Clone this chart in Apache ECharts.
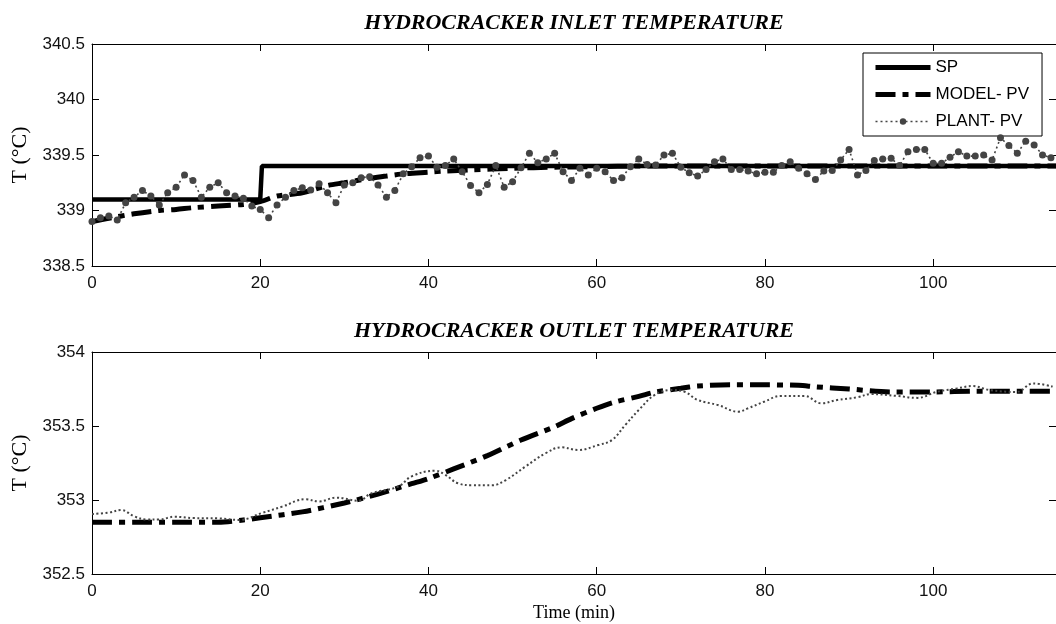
<!DOCTYPE html>
<html>
<head>
<meta charset="utf-8">
<script src="https://cdn.jsdelivr.net/npm/echarts@6/dist/echarts.min.js"></script>
<style>
html,body{margin:0;padding:0;background:#fff;}
#chart{width:1056px;height:624px;}
</style>
</head>
<body>
<div id="chart"></div>
<script>
// ---------- Data ----------
const xTicks = [0, 20, 40, 60, 80, 100];
const inletTicks = [338.5, 339, 339.5, 340, 340.5];
const outletTicks = [352.5, 353, 353.5, 354];

// Inlet: set point
const spTime  = [0, 20, 20.2, 114.6];
const spValue = [339.1, 339.1, 339.4, 339.4];

// Inlet: model PV
const inModelTime  = [0, 2, 5, 8, 10, 12, 15, 18, 20, 22, 25, 28, 30, 33, 35, 37, 40, 42, 45, 50, 55, 60, 65, 70, 80, 90, 100, 110, 114.6];
const inModelValue = [338.9, 338.93, 338.97, 339.0, 339.01, 339.025, 339.04, 339.055, 339.08, 339.13, 339.16, 339.225, 339.25, 339.29, 339.31, 339.33, 339.345, 339.355, 339.365, 339.38, 339.39, 339.395, 339.4, 339.4, 339.4, 339.4, 339.4, 339.4, 339.4];

// Inlet: plant PV (one sample per minute)
const inPlantTime = [0,1,2,3,4,5,6,7,8,9,10,11,12,13,14,15,16,17,18,19,20,21,22,23,24,25,26,27,28,29,30,31,32,33,34,35,36,37,38,39,40,41,42,43,44,45,46,47,48,49,50,51,52,53,54,55,56,57,58,59,60,61,62,63,64,65,66,67,68,69,70,71,72,73,74,75,76,77,78,79,80,81,82,83,84,85,86,87,88,89,90,91,92,93,94,95,96,97,98,99,100,101,102,103,104,105,106,107,108,109,110,111,112,113,114];
const inPlantValue = [
  338.90, 338.935, 338.95, 338.915, 339.07, 339.12, 339.18, 339.13, 339.05, 339.16,
  339.21, 339.32, 339.27, 339.12, 339.21, 339.25, 339.16, 339.13, 339.11, 339.04,
  339.01, 338.935, 339.05, 339.12, 339.18, 339.205, 339.185, 339.24, 339.16, 339.07,
  339.23, 339.25, 339.295, 339.305, 339.23, 339.12, 339.18, 339.33, 339.395, 339.475,
  339.49, 339.39, 339.405, 339.465, 339.35, 339.225, 339.16, 339.235, 339.405, 339.21,
  339.26, 339.385, 339.515, 339.43, 339.465, 339.515, 339.35, 339.27, 339.38, 339.32,
  339.38, 339.35, 339.27, 339.295, 339.395, 339.465, 339.415, 339.41, 339.50, 339.515,
  339.39, 339.34, 339.31, 339.37, 339.44, 339.465, 339.37, 339.37, 339.355, 339.33,
  339.345, 339.345, 339.405, 339.44, 339.38, 339.33, 339.28, 339.355, 339.36, 339.455,
  339.55, 339.32, 339.36, 339.45, 339.465, 339.47, 339.405, 339.53, 339.55, 339.55,
  339.425, 339.425, 339.48, 339.53, 339.49, 339.49, 339.50, 339.455, 339.655, 339.585,
  339.515, 339.625, 339.59, 339.50, 339.475
];

// Outlet: model PV
const outModelTime  = [0, 5, 10, 15, 18, 20, 25, 30, 34, 38, 40, 43, 47, 51, 55, 57, 60, 62, 65, 67, 70, 72, 76, 80, 84, 86, 90, 95, 100, 105, 110, 114.6];
const outModelValue = [352.85, 352.85, 352.85, 352.85, 352.865, 352.88, 352.92, 352.98, 353.04, 353.11, 353.145, 353.21, 353.3, 353.405, 353.495, 353.55, 353.62, 353.66, 353.70, 353.73, 353.755, 353.77, 353.778, 353.778, 353.775, 353.765, 353.75, 353.73, 353.73, 353.735, 353.735, 353.735];

// Outlet: plant PV
const outPlantTime  = [0, 2, 3.5, 5, 6.5, 8, 9.8, 12, 15, 17.5, 20.3, 22.6, 25.4, 27, 29, 31.7, 33.2, 36.4, 38, 40.8, 42, 43.5, 45.2, 47.6, 49.2, 51.5, 53.9, 55.8, 57.8, 60.2, 61.8, 63.4, 65, 66.9, 68.9, 70.5, 72, 74.4, 76.8, 78, 79.9, 81.9, 84.7, 86.7, 88.6, 91, 92.6, 95.7, 98.1, 100.4, 102.8, 104.7, 106.7, 109.9, 111.9, 114.2];
const outPlantValue = [352.905, 352.915, 352.932, 352.89, 352.868, 352.868, 352.887, 352.878, 352.876, 352.865, 352.914, 352.955, 353.005, 352.99, 353.016, 352.995, 353.045, 353.09, 353.16, 353.198, 353.17, 353.113, 353.10, 353.10, 353.135, 353.225, 353.315, 353.356, 353.338, 353.372, 353.405, 353.507, 353.608, 353.71, 353.743, 353.73, 353.676, 353.642, 353.597, 353.62, 353.664, 353.703, 353.703, 353.653, 353.676, 353.694, 353.716, 353.703, 353.69, 353.73, 353.754, 353.77, 353.743, 353.73, 353.788, 353.766];

const zip = (a, b) => a.map((t, i) => [t, b[i]]);

// ---------- Styles ----------
const sansFont = 'Liberation Sans';
const serifFont = 'Liberation Serif';
const X_MAX = 114.6;

function xAxisBottom(grid, name) {
  return {
    type: 'value', gridIndex: grid, position: 'bottom',
    min: 0, max: X_MAX, interval: 20,
    axisLine: { show: true, onZero: false, lineStyle: { color: '#000', width: 1 } },
    axisTick: { show: true, inside: true, length: 7, lineStyle: { color: '#000' } },
    axisLabel: {
      show: true, margin: 9, color: '#111', fontFamily: sansFont, fontSize: 17,
      showMaxLabel: false,
      formatter: v => (xTicks.indexOf(v) >= 0 ? String(v) : '')
    },
    splitLine: { show: false },
    name: name || '', nameLocation: 'middle', nameGap: 30,
    nameTextStyle: { fontFamily: serifFont, fontSize: 18, color: '#000' }
  };
}
function xAxisTop(grid, title) {
  return {
    type: 'value', gridIndex: grid, position: 'top',
    min: 0, max: X_MAX, interval: 20,
    axisLine: { show: true, onZero: false, lineStyle: { color: '#000', width: 1 } },
    axisTick: { show: true, inside: true, length: 7, lineStyle: { color: '#000' } },
    axisLabel: { show: false },
    splitLine: { show: false },
    name: title, nameLocation: 'middle', nameGap: 10,
    nameTextStyle: { fontFamily: serifFont, fontSize: 22, fontStyle: 'italic', fontWeight: 'bold', color: '#000' }
  };
}
function yAxisLeft(grid, ticks) {
  return {
    type: 'value', gridIndex: grid, position: 'left',
    min: ticks[0], max: ticks[ticks.length - 1], interval: 0.5,
    axisLine: { show: true, onZero: false, lineStyle: { color: '#000', width: 1 } },
    axisTick: { show: true, inside: true, length: 7, lineStyle: { color: '#000' } },
    axisLabel: { show: true, margin: 7, color: '#111', fontFamily: sansFont, fontSize: 17 },
    splitLine: { show: false },
    name: 'T (°C)', nameLocation: 'middle', nameRotate: 90, nameGap: 55,
    nameTextStyle: { fontFamily: serifFont, fontSize: 22, color: '#000' }
  };
}
function yAxisRight(grid, ticks) {
  return {
    type: 'value', gridIndex: grid, position: 'right',
    min: ticks[0], max: ticks[ticks.length - 1], interval: 0.5,
    axisLine: { show: true, onZero: false, lineStyle: { color: '#000', width: 1 } },
    axisTick: { show: true, inside: true, length: 7, lineStyle: { color: '#000' } },
    axisLabel: { show: false },
    splitLine: { show: false }
  };
}

const modelLine = { color: '#000', width: 5, type: [20, 7, 6, 7], cap: 'butt' };

const option = {
  animation: false,
  backgroundColor: '#fff',
  grid: [
    { left: 92, top: 44, width: 968, height: 222, containLabel: false },
    { left: 92, top: 352, width: 968, height: 222, containLabel: false }
  ],
  xAxis: [
    xAxisBottom(0, ''),
    xAxisTop(0, 'HYDROCRACKER INLET TEMPERATURE'),
    xAxisBottom(1, 'Time (min)'),
    xAxisTop(1, 'HYDROCRACKER OUTLET TEMPERATURE')
  ],
  yAxis: [
    yAxisLeft(0, inletTicks),
    yAxisRight(0, inletTicks),
    yAxisLeft(1, outletTicks),
    yAxisRight(1, outletTicks)
  ],
  legend: {
    data: [
      { name: 'SP', itemStyle: { opacity: 0 }, lineStyle: { width: 5, color: '#000' } },
      { name: 'MODEL- PV', itemStyle: { opacity: 0 }, lineStyle: { width: 5, color: '#000', type: [20, 7, 6, 7] } },
      { name: 'PLANT- PV', lineStyle: { width: 1.6, color: '#444', type: [2, 3] } }
    ],
    orient: 'vertical',
    left: 863, top: 53,
    itemWidth: 55, itemHeight: 8, itemGap: 10,
    padding: [6, 13, 6, 10],
    borderColor: '#000', borderWidth: 1, borderRadius: 0,
    backgroundColor: '#fff',
    selectedMode: false,
    textStyle: { fontFamily: sansFont, fontSize: 17, color: '#000' }
  },
  series: [
    {
      name: 'SP', type: 'line', xAxisIndex: 0, yAxisIndex: 0,
      data: zip(spTime, spValue), symbol: 'none',
      lineStyle: { color: '#000', width: 4.5 }, itemStyle: { color: '#000' }, z: 2
    },
    {
      name: 'MODEL- PV', type: 'line', xAxisIndex: 0, yAxisIndex: 0,
      data: zip(inModelTime, inModelValue), symbol: 'none', smooth: 0.3,
      lineStyle: modelLine, itemStyle: { color: '#000' }, z: 3
    },
    {
      name: 'PLANT- PV', type: 'line', xAxisIndex: 0, yAxisIndex: 0,
      data: zip(inPlantTime, inPlantValue), symbol: 'circle', symbolSize: 7, showSymbol: true,
      lineStyle: { color: '#444', width: 1.6, type: [2, 3] }, itemStyle: { color: '#444', borderWidth: 0 }, z: 4
    },
    {
      name: 'MODEL- PV', type: 'line', xAxisIndex: 2, yAxisIndex: 2,
      data: zip(outModelTime, outModelValue), symbol: 'none', smooth: 0.3,
      lineStyle: modelLine, itemStyle: { color: '#000' }, z: 3
    },
    {
      name: 'PLANT- PV', type: 'line', xAxisIndex: 2, yAxisIndex: 2,
      data: zip(outPlantTime, outPlantValue), symbol: 'none', smooth: 0.4,
      lineStyle: { color: '#444', width: 2, type: [2, 2.5] }, itemStyle: { color: '#444' }, z: 4
    }
  ]
};

const chart = echarts.init(document.getElementById('chart'), null, { renderer: 'canvas' });
chart.setOption(option);
</script>
</body>
</html>
